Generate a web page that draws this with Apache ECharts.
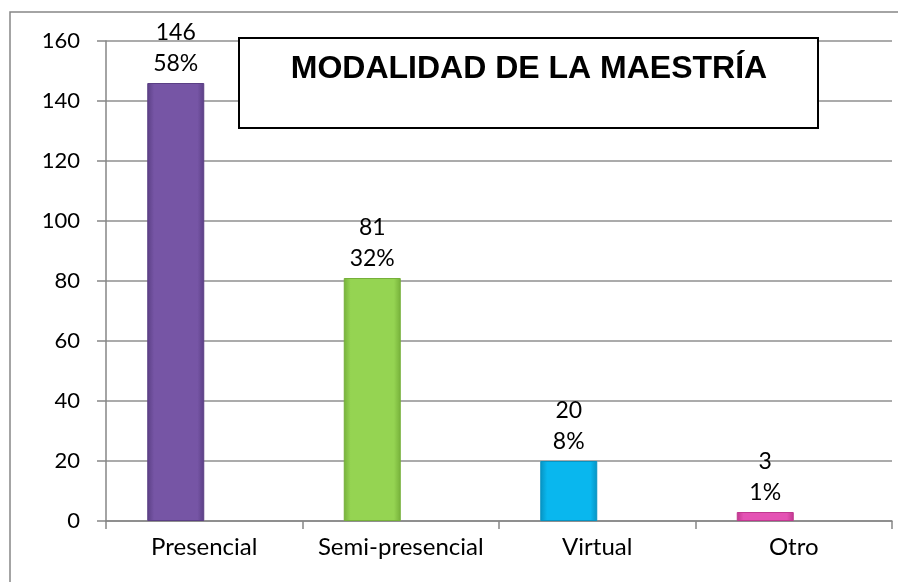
<!DOCTYPE html>
<html lang="es">
<head>
    <meta charset="UTF-8">
    <title>Modalidad de la maestría</title>
    <script src="https://cdn.jsdelivr.net/npm/echarts@6/dist/echarts.min.js"></script>
</head>
<body style="margin: 0; background: #fff">
<div id="chart_main" style="width: 898px; height: 582px"></div>

<script>
    // datos
    const categorias = ['Presencial', 'Semi-presencial', 'Virtual', 'Otro'];
    const cantidades = [146, 81, 20, 3];
    const porcentajes = ['58%', '32%', '8%', '1%'];
    const colores = ['#7655a5', '#95d452', '#09b7ee', '#e452b4'];
    const bordes = ['#5b3f85', '#76b03a', '#0793c2', '#c0388f'];
    const vacio = [0, 0, 0, 0];
    const tituloTxt = 'MODALIDAD DE LA MAESTRÍA';

    const fuente = 'Lato, "Noto Sans", sans-serif';

    function bevel(c, b) {
        return new echarts.graphic.LinearGradient(0, 0, 1, 0, [
            {offset: 0, color: b},
            {offset: 0.12, color: c},
            {offset: 0.88, color: c},
            {offset: 1, color: b}
        ]);
    }

    let myChart = echarts.init(document.getElementById('chart_main'), null, {renderer: 'canvas'});

    let option = {
        animation: false,
        grid: {left: 106, right: 6, top: 41, bottom: 61},
        xAxis: {
            type: 'category',
            data: categorias,
            axisLine: {lineStyle: {color: '#868686', width: 1.5}},
            axisTick: {show: true, length: 8, lineStyle: {color: '#868686', width: 1.5}},
            axisLabel: {color: '#000', fontFamily: fuente, fontSize: 24, margin: 14, interval: 0}
        },
        yAxis: {
            type: 'value',
            min: 0,
            max: 160,
            interval: 20,
            axisLine: {show: true, lineStyle: {color: '#868686', width: 1.5}},
            axisTick: {show: true, length: 9, lineStyle: {color: '#868686', width: 1.5}},
            axisLabel: {color: '#000', fontFamily: fuente, fontSize: 22, margin: 26},
            splitLine: {lineStyle: {color: '#8f8f8f', width: 1.5}}
        },
        series: [
            {
                type: 'bar',
                barWidth: 57,
                barGap: '0%',
                data: cantidades.map(function (v, i) {
                    return {
                        value: v,
                        itemStyle: {color: bevel(colores[i], bordes[i]), borderColor: bordes[i], borderWidth: 1}
                    };
                }),
                label: {
                    show: true,
                    position: 'top',
                    distance: 4,
                    color: '#000',
                    fontFamily: fuente,
                    fontSize: 23,
                    lineHeight: 31,
                    formatter: function (p) {
                        return p.value + '\n' + porcentajes[p.dataIndex];
                    }
                },
                z: 3
            },
            {
                type: 'bar',
                barWidth: 57,
                data: vacio,
                itemStyle: {color: 'rgba(0,0,0,0)'},
                silent: true
            }
        ],
        graphic: [
            {
                type: 'rect',
                shape: {x: 10, y: 12, width: 900, height: 600},
                style: {fill: 'none', stroke: '#868686', lineWidth: 1.5},
                silent: true,
                z: 1
            },
            {
                type: 'rect',
                shape: {x: 239, y: 38, width: 579, height: 90},
                style: {fill: '#fff', stroke: '#000', lineWidth: 2},
                z: 10
            },
            {
                type: 'text',
                x: 529,
                y: 69,
                style: {
                    text: tituloTxt,
                    fill: '#000',
                    font: 'bold 32px "Liberation Sans", Arial, sans-serif',
                    textAlign: 'center',
                    textVerticalAlign: 'middle'
                },
                z: 11
            }
        ]
    };

    myChart.setOption(option);
</script>
</body>
</html>
